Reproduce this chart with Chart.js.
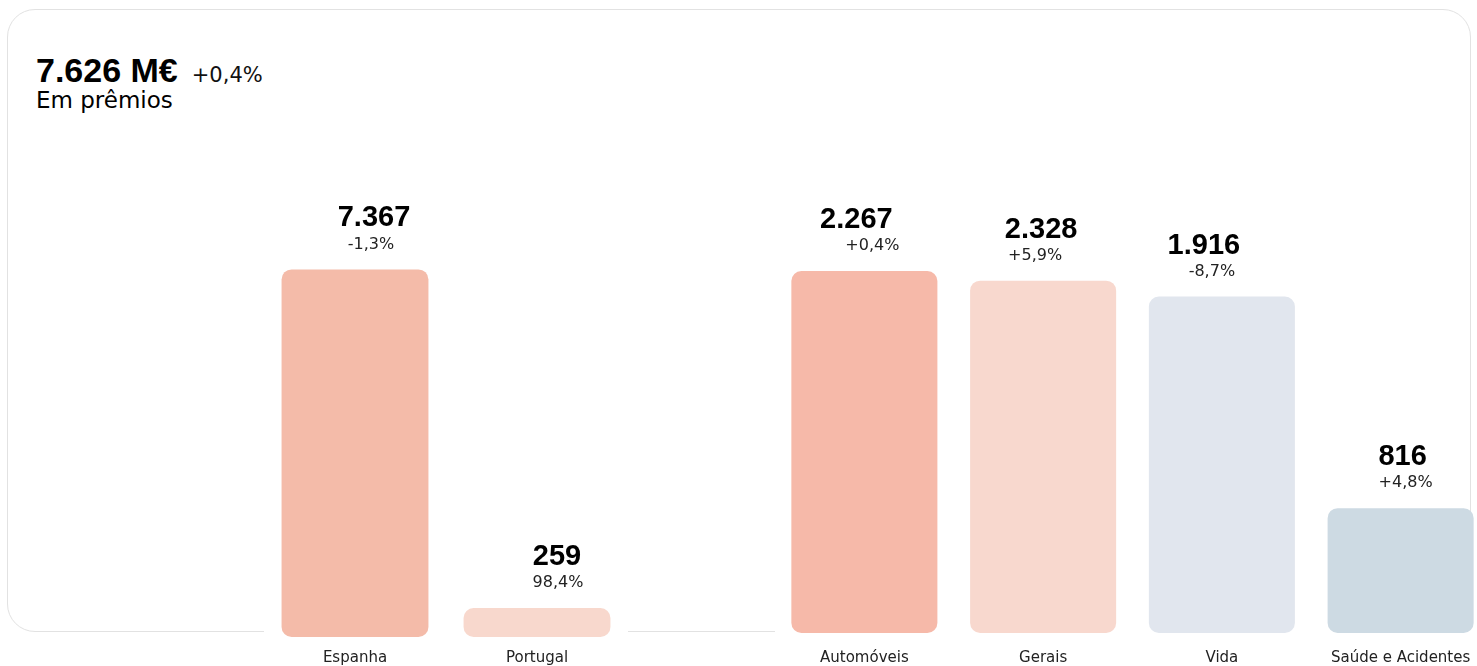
<!doctype html>
<html>
<head>
<meta charset="utf-8">
<title>Prêmios</title>
<script src="https://cdn.jsdelivr.net/npm/chart.js@4/dist/chart.umd.min.js"></script>
<style>
	body { margin: 0; background: #fff; overflow: hidden; }
	#wrap { position: relative; width: 1477px; height: 666px; overflow: hidden; font-family: "DejaVu Sans", sans-serif; color: #000; }
	#card { position: absolute; left: 7px; top: 9px; width: 1462px; height: 621px; border: 1.5px solid #e2e2e2; border-radius: 28px; }
	#total { position: absolute; left: 36px; top: 51px; line-height: 34px; white-space: nowrap; }
	#total b { font: bold 34px "Liberation Sans", Arial, sans-serif; }
	#total span { font-size: 21px; margin-left: 14px; color: #111; }
	#sub { position: absolute; left: 36px; top: 89px; font-size: 23px; line-height: 23px; }
	canvas { position: absolute; top: 0; }
	#regionChart { left: 264px; }
	#lineChart { left: 775px; }
</style>
</head>
<body>
<div id="wrap">
	<div id="card"></div>
	<div id="total"><b></b><span></span></div>
	<div id="sub">Em prêmios</div>
	<canvas id="regionChart" width="364" height="679"></canvas>
	<canvas id="lineChart" width="715" height="683"></canvas>
</div>
<script>
	var totalPremios = 7626;
	var totalChange = '+0,4%';

	var regions = ['Espanha', 'Portugal'];
	var regionPremios = [7367, 259];
	var regionChange = ['-1,3%', '98,4%'];
	var regionPrevYear = [7464, 131];
	var regionColors = ['#f4bba9', '#f8d8cd'];

	var lines = ['Automóveis', 'Gerais', 'Vida', 'Saúde e Acidentes'];
	var linePremios = [2267, 2328, 1916, 816];
	var lineChange = ['+0,4%', '+5,9%', '-8,7%', '+4,8%'];
	var linePrevYear = [2258, 2198, 2099, 779];
	var lineColors = ['#f6b9a9', '#f8d8ce', '#e1e6ee', '#cddae3'];

	function fmt(n) {
		return String(n).replace(/\B(?=(\d{3})+(?!\d))/g, '.');
	}

	document.querySelector('#total b').textContent = fmt(totalPremios) + ' M€';
	document.querySelector('#total span').textContent = totalChange;

	// white strip hides the card border under the axis, then value labels over each bar
	var barLabels = {
		id: 'barLabels',
		beforeDraw: function(chart) {
			var ctx = chart.ctx;
			ctx.save();
			ctx.fillStyle = '#fff';
			ctx.fillRect(0, chart.chartArea.bottom - 10, chart.width, chart.height);
			ctx.restore();
		},
		afterDatasetsDraw: function(chart, args, opts) {
			var ctx = chart.ctx;
			chart.getDatasetMeta(0).data.forEach(function(bar, i) {
				ctx.save();
				ctx.textAlign = 'center';
				ctx.textBaseline = 'middle';
				ctx.fillStyle = '#000';
				ctx.font = 'bold 29px "Liberation Sans", Arial, sans-serif';
				ctx.fillText(fmt(opts.values[i]), bar.x + opts.nudge[i][0], bar.y - 51);
				ctx.fillStyle = '#222';
				ctx.font = '16px "DejaVu Sans", sans-serif';
				ctx.fillText(opts.changes[i], bar.x + opts.nudge[i][1], bar.y - 25);
				ctx.restore();
			});
		}
	};

	function makeChart(id, labels, bars, values, changes, colors, nudge, yMax, padTop, tickPad, barPct, minLen) {
		return new Chart(document.getElementById(id), {
			type: 'bar',
			data: {
				labels: labels,
				datasets: [{
					data: bars,
					backgroundColor: colors,
					borderRadius: 10,
					borderSkipped: false,
					categoryPercentage: 1,
					barPercentage: barPct,
					minBarLength: minLen
				}]
			},
			options: {
				responsive: false,
				animation: false,
				layout: { padding: { top: padTop, left: 0, right: 0, bottom: 0 } },
				plugins: {
					legend: { display: false },
					tooltip: { enabled: false },
					barLabels: { values: values, changes: changes, nudge: nudge }
				},
				scales: {
					x: {
						grid: { display: false, drawTicks: false },
						border: { display: false },
						ticks: {
							padding: tickPad,
							color: '#222',
							font: { family: '"DejaVu Sans", sans-serif', size: 15 }
						}
					},
					y: { display: false, min: 0, max: yMax }
				}
			},
			plugins: [barLabels]
		});
	}

	// label x offsets in px (value, change), as laid out in the original
	makeChart('regionChart', regions, regionPrevYear, regionPremios, regionChange, regionColors,
		[[19, 16], [20, 21]], 12000, 46, 12, 0.807, 29);
	makeChart('lineChart', lines, linePrevYear, linePremios, lineChange, lineColors,
		[[-8, 8], [-2, -8], [-18, -10], [2, 5]], 3500, 72, 16, 0.817, 0);
</script>
</body>
</html>
